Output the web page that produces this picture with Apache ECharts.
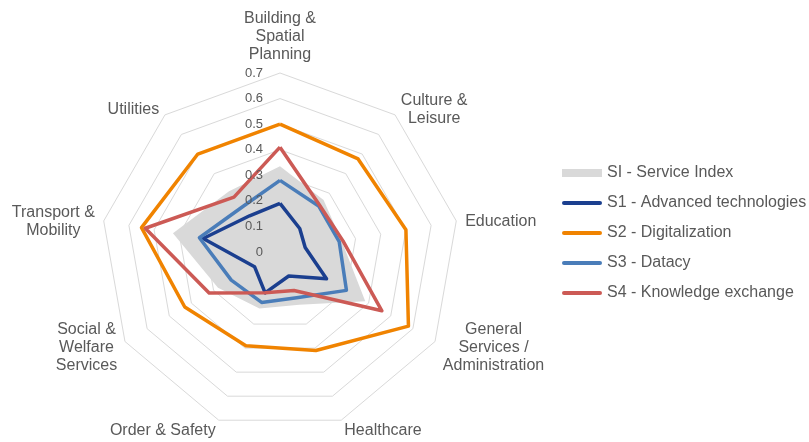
<!DOCTYPE html>
<html><head><meta charset="utf-8">
<script src="https://cdn.jsdelivr.net/npm/echarts@6/dist/echarts.min.js"></script>
<style>html,body{margin:0;padding:0;background:#fff}#c{width:809px;height:442px}</style>
</head><body><div id="c"></div>
<script>
// Categories in clockwise order starting from the top
const CATEGORIES = [
  'Building &\nSpatial\nPlanning',
  'Culture &\nLeisure',
  'Education',
  'General\nServices /\nAdministration',
  'Healthcare',
  'Order & Safety',
  'Social &\nWelfare\nServices',
  'Transport &\nMobility',
  'Utilities'
];
const SERIES_NAMES = [
  'SI - Service Index',
  'S1 - Advanced technologies',
  'S2 - Digitalization',
  'S3 - Datacy',
  'S4 - Knowledge exchange'
];
const SI = [0.335, 0.265, 0.245, 0.385, 0.22, 0.235, 0.28, 0.425, 0.31];
const S1 = [0.19, 0.12, 0.10, 0.21, 0.10, 0.17, 0.115, 0.305, 0.185];
const S2 = [0.50, 0.475, 0.50, 0.58, 0.41, 0.39, 0.43, 0.55, 0.50];
const S3 = [0.28, 0.235, 0.235, 0.30, 0.19, 0.21, 0.22, 0.32, 0.23];
const S4 = [0.41, 0.24, 0.25, 0.46, 0.16, 0.17, 0.32, 0.535, 0.28];
const TICK_LABELS = ['0', '0.1', '0.2', '0.3', '0.4', '0.5', '0.6', '0.7'];
const AXIS_MIN = 0;
const AXIS_MAX = 0.7;

const VALUES = [SI, S1, S2, S3, S4];
const COLORS = ['#D9D9D9', '#1B3F8F', '#F08300', '#4A7DB9', '#CC5A55'];
const FONT = '"Liberation Sans", Arial, sans-serif';
const TEXT = '#595959';

// ECharts places indicators counter-clockwise; reorder to get clockwise layout
const order = [0].concat(CATEGORIES.map((_, i) => i).slice(1).reverse());
const reorder = arr => order.map(i => arr[i]);

const indicator1 = order.map(i => ({ name: CATEGORIES[i], min: AXIS_MIN, max: AXIS_MAX }));
const indicator2 = order.map((i, k) => k === 0
  ? { name: CATEGORIES[i], min: AXIS_MIN, max: AXIS_MAX, axisLabel: { show: true } }
  : { name: CATEGORIES[i], min: AXIS_MIN, max: AXIS_MAX });

const common = {
  center: [280, 252],
  radius: 179,
  shape: 'polygon',
  startAngle: 90,
  splitNumber: 7,
  axisLine: { show: false },
  axisTick: { show: false },
  splitArea: { show: false }
};

const linePath = 'path://M0,0M40,8M2,2L38,2A2,2,0,0,1,38,6L2,6A2,2,0,0,1,2,2Z';

const chart = echarts.init(document.getElementById('c'), null, { renderer: 'canvas' });
chart.setOption({
  animation: false,
  backgroundColor: '#fff',
  textStyle: { fontFamily: FONT },
  legend: {
    orient: 'vertical',
    left: 557,
    top: 160,
    itemWidth: 40,
    itemHeight: 8,
    itemGap: 14,
    selectedMode: false,
    textStyle: { color: TEXT, fontSize: 16, fontFamily: FONT, padding: [0, 0, 0, 0] },
    itemStyle: { borderWidth: 0 },
    data: SERIES_NAMES.map((n, k) => ({
      name: n,
      icon: k === 0 ? 'rect' : linePath,
      itemStyle: { color: COLORS[k], borderWidth: 0 }
    }))
  },
  radar: [
    Object.assign({}, common, {
      indicator: indicator1,
      nameGap: 9,
      axisName: {
        color: TEXT,
        fontSize: 16,
        fontFamily: FONT,
        lineHeight: 18,
        padding: [4, 0, 0, 0],
        formatter: name => name.split('\n').map(l => '{c|' + l + '}').join('\n'),
        rich: { c: { align: 'center', fontSize: 16, color: TEXT, fontFamily: FONT, lineHeight: 18 } }
      },
      axisLabel: { show: false },
      splitLine: { lineStyle: { color: '#D9D9D9', width: 1 } }
    }),
    Object.assign({}, common, {
      z: 10,
      indicator: indicator2,
      axisName: { show: false },
      splitLine: { show: false },
      axisLabel: {
        show: false,
        color: TEXT,
        fontSize: 13,
        fontFamily: FONT,
        margin: 17,
        formatter: (v, idx) => TICK_LABELS[idx] !== undefined ? TICK_LABELS[idx] : String(v)
      }
    })
  ],
  series: SERIES_NAMES.map((n, k) => ({
    type: 'radar',
    radarIndex: 0,
    name: n,
    silent: true,
    symbol: 'none',
    z: 2 + k,
    color: COLORS[k],
    itemStyle: { color: COLORS[k] },
    lineStyle: k === 0 ? { width: 0, opacity: 0 } : { color: COLORS[k], width: 3.5 },
    areaStyle: k === 0 ? { color: COLORS[0], opacity: 1 } : undefined,
    data: [{ name: n, value: reorder(VALUES[k]) }]
  }))
});
</script>
</body></html>
